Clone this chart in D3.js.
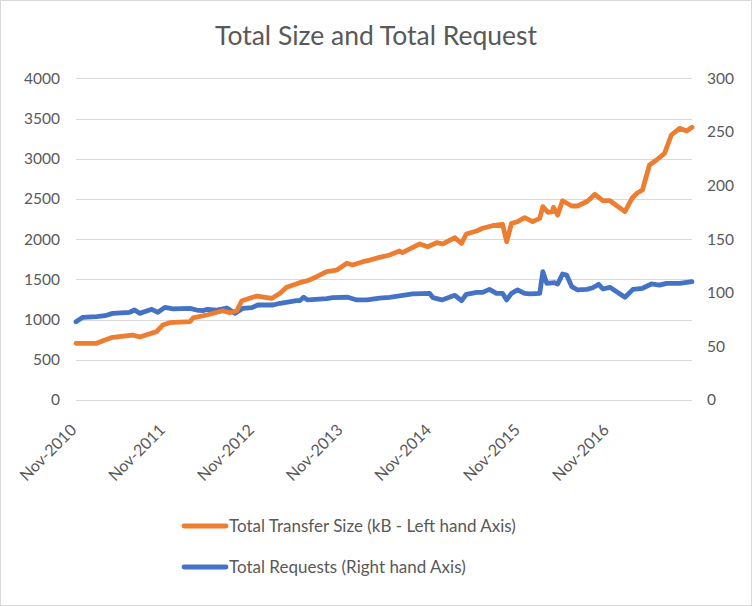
<!DOCTYPE html>
<html><head><meta charset="utf-8">
<script src="https://cdn.jsdelivr.net/npm/d3@7"></script>
<style>
html,body{margin:0;padding:0;background:#fff;}
svg text{font-family:Lato,"Open Sans",sans-serif;fill:#595959;}
</style></head>
<body><svg id="c" width="752" height="606"></svg>
<script>
const title = "Total Size and Total Request";
const seriesNames = ["Total Transfer Size (kB - Left hand Axis)", "Total Requests (Right hand Axis)"];
const leftTicks = [0,500,1000,1500,2000,2500,3000,3500,4000];
const rightTicks = [0,50,100,150,200,250,300];
const xTickLabels = ["Nov-2010","Nov-2011","Nov-2012","Nov-2013","Nov-2014","Nov-2015","Nov-2016"];
const xTickDates = ["2010-11-15","2011-11-15","2012-11-15","2013-11-15","2014-11-15","2015-11-15","2016-11-15"];
const xDomain = ["2010-11-15","2017-10-25"];

const sizeDates = ["2010-11-15","2011-02-08","2011-03-06","2011-04-15","2011-07-06","2011-08-04","2011-10-13","2011-11-07","2011-12-06","2012-02-27","2012-03-11","2012-05-06","2012-07-11","2012-08-09","2012-09-07","2012-09-28","2012-11-29","2013-01-30","2013-03-04","2013-03-31","2013-05-24","2013-06-26","2013-08-02","2013-09-12","2013-10-24","2013-12-04","2013-12-28","2014-02-08","2014-03-09","2014-04-18","2014-05-29","2014-07-09","2014-07-21","2014-09-30","2014-11-02","2014-12-09","2015-01-03","2015-02-22","2015-03-21","2015-04-10","2015-05-22","2015-06-16","2015-07-26","2015-09-06","2015-09-23","2015-10-13","2015-11-07","2015-12-06","2016-01-08","2016-02-06","2016-02-19","2016-03-11","2016-03-30","2016-04-03","2016-04-20","2016-05-10","2016-06-17","2016-07-11","2016-08-22","2016-09-20","2016-10-23","2016-11-21","2017-01-22","2017-02-20","2017-03-12","2017-04-04","2017-05-03","2017-06-01","2017-07-04","2017-08-01","2017-09-04","2017-10-03","2017-10-25"];
const sizeValues = [705,705,737,780,808,783,850,932,961,974,1020,1057,1110,1085,1110,1235,1293,1264,1327,1401,1459,1484,1533,1596,1616,1700,1679,1720,1740,1774,1803,1853,1832,1940,1906,1956,1940,2018,1948,2064,2101,2135,2167,2185,1969,2197,2217,2267,2217,2259,2404,2334,2342,2396,2300,2478,2412,2412,2474,2557,2478,2478,2342,2508,2570,2611,2922,2984,3067,3295,3378,3345,3391];

const reqDates = ["2010-11-15","2010-12-13","2011-02-08","2011-03-14","2011-04-15","2011-06-24","2011-07-14","2011-08-04","2011-09-23","2011-10-18","2011-11-16","2011-12-19","2012-02-27","2012-03-26","2012-04-20","2012-05-10","2012-06-17","2012-07-28","2012-08-30","2012-10-02","2012-11-08","2012-12-03","2013-02-03","2013-03-04","2013-05-11","2013-05-24","2013-06-09","2013-06-26","2013-09-12","2013-10-07","2013-12-08","2014-01-14","2014-02-25","2014-04-18","2014-05-29","2014-09-01","2014-11-10","2014-11-23","2014-12-30","2015-02-22","2015-03-21","2015-04-10","2015-05-22","2015-06-16","2015-07-14","2015-08-12","2015-09-06","2015-09-23","2015-10-13","2015-11-07","2015-12-06","2015-12-27","2016-02-06","2016-02-19","2016-03-06","2016-04-07","2016-04-20","2016-05-10","2016-05-27","2016-06-17","2016-07-11","2016-08-18","2016-09-11","2016-10-06","2016-10-23","2016-11-21","2017-01-22","2017-02-24","2017-04-04","2017-05-11","2017-06-13","2017-07-12","2017-09-04","2017-10-25"];
const reqValues = [73,77.1,77.7,78.6,80.8,81.8,83.9,80.8,84.6,81.8,86.4,84.9,85.5,83.9,83.3,84.6,83.9,85.8,80.8,85.5,86.1,88.6,88.6,90.2,92.6,92.6,95.8,93.3,94.5,95.4,95.8,93.3,93.3,95.1,95.8,98.9,99.5,95.4,93.3,97.6,92.6,98.6,100.4,100.4,103.2,99.5,99.5,93.3,99.5,102.6,99.5,98.9,99.5,119.7,108.8,109.4,108.2,117.5,116.6,105.7,102.6,103.2,104.7,107.9,103.5,105.1,95.8,103.2,104.2,108.2,107.2,108.8,108.8,110.3];

const svg = d3.select("#c");
const W = 752, H = 606;
const x0 = 76, x1 = 692, yTop = 78.3, yBot = 400;
const parse = d3.utcParse("%Y-%m-%d");
const FONT = 'Lato,"Open Sans",sans-serif';

svg.append("rect").attr("x",0.5).attr("y",0.5).attr("width",W-1).attr("height",H-1)
  .attr("fill","#fff").attr("stroke","#d9d9d9");

const x = d3.scaleUtc().domain(xDomain.map(parse)).range([x0,x1]);
const yL = d3.scaleLinear().domain([0,4000]).range([yBot,yTop]);
const yR = d3.scaleLinear().domain([0,300]).range([yBot,yTop]);

// gridlines
svg.append("g").selectAll("line").data(leftTicks).join("line")
  .attr("x1",x0).attr("x2",x1).attr("y1",d=>Math.round(yL(d))+0.5).attr("y2",d=>Math.round(yL(d))+0.5)
  .attr("stroke","#d9d9d9").attr("stroke-width",1);

// left axis
const gl = svg.append("g").attr("transform",`translate(${x0},0)`)
  .call(d3.axisLeft(yL).tickValues(leftTicks).tickFormat(d3.format("d")).tickSize(0).tickPadding(16));
gl.select(".domain").remove();
gl.selectAll("text").attr("font-size",15.5).style("font-family",FONT).attr("fill","#595959");

// right axis
const gr = svg.append("g").attr("transform",`translate(${x1},0)`)
  .call(d3.axisRight(yR).tickValues(rightTicks).tickFormat(d3.format("d")).tickSize(0).tickPadding(15));
gr.select(".domain").remove();
gr.selectAll("text").attr("font-size",15.5).style("font-family",FONT).attr("fill","#595959");

// x axis labels
const gx = svg.append("g").attr("transform",`translate(0,${yBot})`)
  .call(d3.axisBottom(x).tickValues(xTickDates.map(parse)).tickSize(0)
    .tickFormat((d,i)=>xTickLabels[i]));
gx.select(".domain").remove();
gx.selectAll("text")
  .attr("font-size",16).style("font-family",FONT).attr("fill","#595959")
  .attr("text-anchor","end").attr("dy",null).attr("y",null)
  .attr("transform","translate(1,31) rotate(-45)");

// lines
const lineL = d3.line().x(d=>x(d[0])).y(d=>yL(d[1])).curve(d3.curveLinear);
const lineR = d3.line().x(d=>x(d[0])).y(d=>yR(d[1])).curve(d3.curveLinear);
svg.append("path").datum(reqDates.map((d,i)=>[parse(d),reqValues[i]]))
  .attr("d",lineR).attr("fill","none").attr("stroke","#4472C4").attr("stroke-width",4.8)
  .attr("stroke-linejoin","round").attr("stroke-linecap","round");
svg.append("path").datum(sizeDates.map((d,i)=>[parse(d),sizeValues[i]]))
  .attr("d",lineL).attr("fill","none").attr("stroke","#ED7D31").attr("stroke-width",4.8)
  .attr("stroke-linejoin","round").attr("stroke-linecap","round");

// title
svg.append("text").attr("x",376).attr("y",45).attr("text-anchor","middle")
  .attr("font-size",26.5).style("font-family",FONT).attr("fill","#595959").text(title);

// legend
const colors = ["#ED7D31","#4472C4"];
const lg = svg.append("g");
seriesNames.forEach((n,i)=>{
  const yy = 526 + i*41;
  lg.append("line").attr("x1",184).attr("x2",226).attr("y1",yy).attr("y2",yy)
    .attr("stroke",colors[i]).attr("stroke-width",4.8).attr("stroke-linecap","round");
  lg.append("text").attr("x",229).attr("y",yy+6).attr("font-size",17)
    .style("font-family",FONT).attr("fill","#595959").text(n);
});
</script></body></html>
